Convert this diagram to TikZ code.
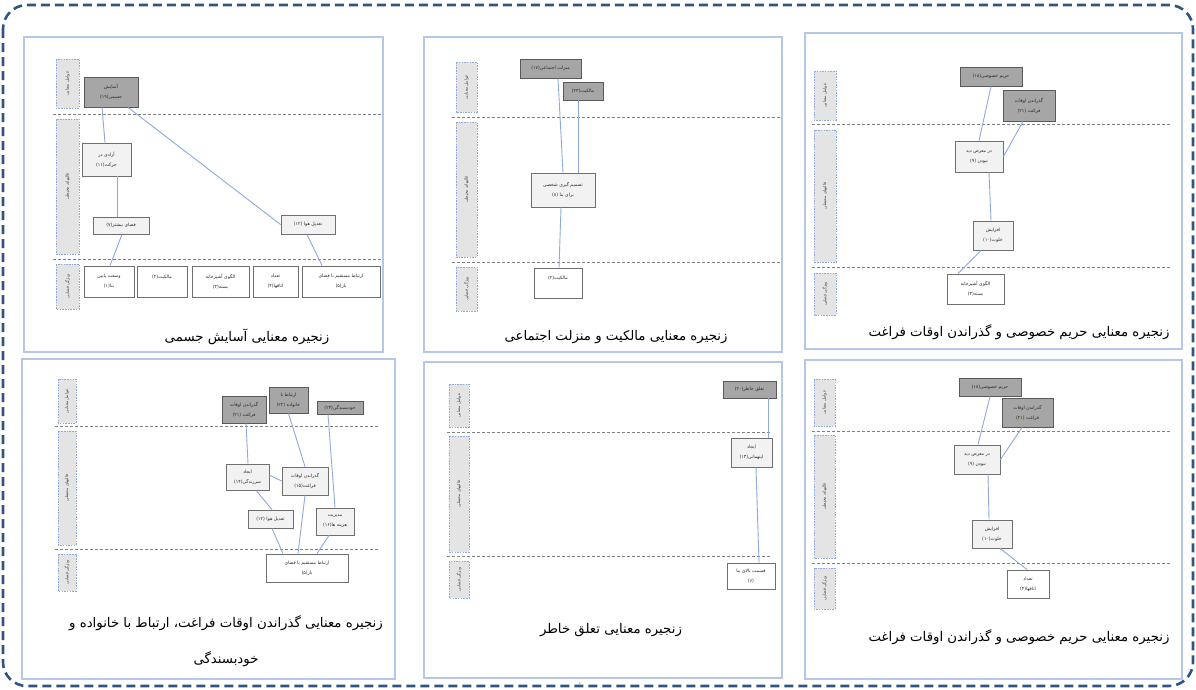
\documentclass[tikz,border=0pt]{standalone}
\usepackage{fontspec}
\newfontfamily\fafont[Script=Arabic]{DejaVu Sans}
\TeXXeTstate=1
\usetikzlibrary{calc}
\definecolor{framec}{HTML}{2F5583}
\definecolor{panelc}{HTML}{B4C7E7}
\definecolor{sidec}{HTML}{8FAADC}
\definecolor{sidefill}{HTML}{E4E4E4}
\definecolor{topfill}{HTML}{A6A6A6}
\definecolor{midfill}{HTML}{F2F2F2}
\definecolor{boxline}{HTML}{6F6F6F}
\definecolor{connc}{HTML}{8EAADB}
\definecolor{sepc}{HTML}{808080}
\newcommand\fa[1]{\beginR #1\endR}
\begin{document}
\begin{tikzpicture}[x=1pt,y=-1pt,
  panel/.style={draw=panelc,line width=2.6pt},
  sidelab/.style={draw=sidec,fill=sidefill,line width=0.8pt,dash pattern=on 1.5pt off 1.2pt,rotate=90,inner sep=0pt,font=\fafont\fontsize{4.2}{5}\selectfont,text=black!75},
  sep/.style={draw=sepc,line width=0.8pt,dash pattern=on 3pt off 2pt},
  nbase/.style={draw=boxline,line width=0.9pt,inner sep=0pt,align=center,font=\fafont\fontsize{4.6}{10}\selectfont,text=black!85},
  tbox/.style={nbase,fill=topfill,draw=black!65},
  mbox/.style={nbase,fill=midfill},
  bbox/.style={nbase,fill=white},
  conn/.style={draw=connc,line width=0.9pt},
  ttl/.style={align=center,font=\fafont\fontsize{13.3}{36}\selectfont,text=black}
]
\useasboundingbox (0,0) rectangle (1196,689);
\fill[white] (0,0) rectangle (1196,689);
% outer frame
\draw[framec,line width=2.6pt,dash pattern=on 9pt off 5pt,rounded corners=24pt] (3,5) rectangle (1193,686);

% ================= Panel 1 =================
\draw[panel] (24,37) rectangle (383,352);
\node[sidelab,minimum width=49,minimum height=23] (s1a) at (67.5,83.5) {\fa{عوامل معنایی}};
\node[sidelab,minimum width=135,minimum height=23] (s1b) at (67.5,186.5) {\fa{قالبهای محیطی}};
\node[sidelab,minimum width=45,minimum height=23] (s1c) at (67.5,286.5) {\fa{ویژگی فضایی}};
\draw[sep] (53,114) -- (383,114);
\draw[sep] (53,259) -- (383,259);
\node[tbox,minimum width=54,minimum height=30] (p1a) at (111,92) {\fa{آسایش}\\\fa{جسمی(۱۹)}};
\node[mbox,minimum width=49,minimum height=33] (p1b) at (106.5,159.5) {\fa{آزادی در}\\\fa{حرکت(۱۱)}};
\node[mbox,minimum width=56,minimum height=17] (p1c) at (121,225.5) {\fa{فضای بیشتر(۷)}};
\node[mbox,minimum width=54,minimum height=19] (p1d) at (308,224.5) {\fa{تعدیل هوا (۱۲)}};
\node[bbox,minimum width=50,minimum height=31] (p1e) at (109,281.5) {\fa{وسعت پایین}\\\fa{بنا(۱)}};
\node[bbox,minimum width=50,minimum height=31] (p1f) at (162,281.5) {\fa{مالکیت(۲)}\\\mbox{}};
\node[bbox,minimum width=57,minimum height=31] (p1g) at (220.5,281.5) {\fa{الگوی آشپزخانه}\\\fa{بسته(۳)}};
\node[bbox,minimum width=45,minimum height=31] (p1h) at (275.5,281.5) {\fa{تعداد}\\\fa{اتاقها(۴)}};
\node[bbox,minimum width=78,minimum height=31] (p1i) at (341,281.5) {\fa{ارتباط مستقیم با فضای}\\\fa{باز(۵)}};
\draw[conn] ([xshift=-9pt]p1a.south) -- ([xshift=-1.5pt]p1b.north);
\draw[conn] ([xshift=17pt]p1a.south) -- (p1d.west);
\draw[conn] ([xshift=10.5pt]p1b.south) -- ([xshift=-4pt]p1c.north);
\draw[conn] ([xshift=1pt]p1c.south) -- ([xshift=1pt]p1e.north);
\draw[conn] ([xshift=-1pt]p1d.south) -- ([xshift=-19pt]p1i.north);
\node[ttl] (t1) at (247,337) {\fa{زنجیره معنایی آسایش جسمی}};

% ================= Panel 2 =================
\draw[panel] (424,37) rectangle (782,352);
\node[sidelab,minimum width=50,minimum height=21] (s2a) at (466.5,87) {\fa{عوامل معنایی}};
\node[sidelab,minimum width=135,minimum height=21] (s2b) at (466.5,189.5) {\fa{قالبهای محیطی}};
\node[sidelab,minimum width=44,minimum height=21] (s2c) at (466.5,289) {\fa{ویژگی فضایی}};
\draw[sep] (452,117) -- (782,117);
\draw[sep] (452,262) -- (782,262);
\node[tbox,minimum width=61,minimum height=19] (p2a) at (550.5,68.5) {\fa{منزلت اجتماعی(۱۷)}};
\node[tbox,minimum width=40,minimum height=18] (p2b) at (583,91) {\fa{مالکیت(۲۳)}};
\node[mbox,minimum width=64,minimum height=34] (p2c) at (563,190) {\fa{تصمیم گیری شخصی}\\\fa{برای بنا (۸)}};
\node[bbox,minimum width=48,minimum height=30] (p2d) at (558,283) {\fa{مالکیت(۲)}\\\mbox{}};
\draw[conn] ([xshift=7.5pt]p2a.south) -- (p2c.north);
\draw[conn] ([xshift=-5pt]p2b.south) -- ([xshift=15pt]p2c.north);
\draw[conn] ([xshift=-2pt]p2c.south) -- ([xshift=1pt]p2d.north);
\node[ttl] (t2) at (616,337) {\fa{زنجیره معنایی مالکیت و منزلت اجتماعی}};

% ================= Panel 3 =================
\draw[panel] (805,33) rectangle (1182,349);
\node[sidelab,minimum width=49,minimum height=22] (s3a) at (825,95.5) {\fa{عوامل معنایی}};
\node[sidelab,minimum width=132,minimum height=22] (s3b) at (825,196) {\fa{قالبهای محیطی}};
\node[sidelab,minimum width=42,minimum height=22] (s3c) at (825,294) {\fa{ویژگی فضایی}};
\draw[sep] (812,124) -- (1170,124);
\draw[sep] (812,267) -- (1170,267);
\node[tbox,minimum width=62,minimum height=19] (p3a) at (991,76.5) {\fa{حریم خصوصی(۱۸)}};
\node[tbox,minimum width=52,minimum height=31] (p3b) at (1029,105.5) {\fa{گذراندن اوقات}\\\fa{فراغت (۲۱)}};
\node[mbox,minimum width=48,minimum height=31] (p3c) at (979,156.5) {\fa{در معرض دید}\\\fa{نبودن (۹)}};
\node[mbox,minimum width=40,minimum height=29] (p3d) at (993,235.5) {\fa{افزایش}\\\fa{خلوت(۱۰)}};
\node[bbox,minimum width=57,minimum height=30] (p3e) at (975.5,289) {\fa{الگوی آشپزخانه}\\\fa{بسته(۳)}};
\draw[conn] (p3a.south) -- (p3c.north);
\draw[conn] ([xshift=-6pt]p3b.south) -- (p3c.east);
\draw[conn] ([xshift=10pt]p3c.south) -- ([xshift=-2pt]p3d.north);
\draw[conn] ([xshift=-12pt]p3d.south) -- ([xshift=-17.5pt]p3e.north);
\node[ttl] (t3) at (1019,332) {\fa{زنجیره معنایی حریم خصوصی و گذراندن اوقات فراغت}};

% ================= Panel 4 =================
\draw[panel] (22,359) rectangle (395,679);
\node[sidelab,minimum width=44,minimum height=18] (s4a) at (67,401) {\fa{عوامل معنایی}};
\node[sidelab,minimum width=114,minimum height=18] (s4b) at (67,488) {\fa{قالبهای محیطی}};
\node[sidelab,minimum width=37,minimum height=18] (s4c) at (67,572.5) {\fa{ویژگی فضایی}};
\draw[sep] (55,426) -- (378,426);
\draw[sep] (55,549) -- (378,549);
\node[tbox,minimum width=44,minimum height=27] (p4a) at (244,409.5) {\fa{گذراندن اوقات}\\\fa{فراغت (۲۱)}};
\node[tbox,minimum width=39,minimum height=26] (p4b) at (288.5,400) {\fa{ارتباط با}\\\fa{خانواده (۲۲)}};
\node[tbox,minimum width=46,minimum height=13] (p4c) at (340,407.5) {\fa{خودبسندگی(۲۴)}};
\node[mbox,minimum width=43,minimum height=26] (p4d) at (247.5,477) {\fa{ایجاد}\\\fa{سرزندگی(۱۴)}};
\node[mbox,minimum width=46,minimum height=28] (p4e) at (305,481) {\fa{گذراندن اوقات}\\\fa{فراغت(۱۵)}};
\node[mbox,minimum width=45,minimum height=18] (p4f) at (270.5,519) {\fa{تعدیل هوا (۱۲)}};
\node[mbox,minimum width=38,minimum height=27] (p4g) at (335,521.5) {\fa{مدیریت}\\\fa{هزینه ها(۱۶)}};
\node[bbox,minimum width=82,minimum height=28] (p4h) at (307,568) {\fa{ارتباط مستقیم با فضای}\\\fa{باز(۵)}};
\draw[conn] ([xshift=2pt]p4a.south) -- ([xshift=0.5pt]p4d.north);
\draw[conn] (p4b.south) -- (p4e.north);
\draw[conn] ([xshift=-12pt]p4c.south) -- (p4g.north);
\draw[conn] ([yshift=2pt]p4d.east) -- (p4e.west);
\draw[conn] ([xshift=8.5pt]p4d.south) -- ([xshift=1.5pt]p4f.north);
\draw[conn] ([xshift=1.5pt]p4f.south) -- ([xshift=-24pt]p4h.north);
\draw[conn] (p4e.south) -- ([xshift=-9pt]p4h.north);
\draw[conn] ([xshift=-6pt]p4g.south) -- ([xshift=10pt]p4h.north);
\node[ttl] (t4) at (226,641) {\fa{زنجیره معنایی گذراندن اوقات فراغت، ارتباط با خانواده و}\\\fa{خودبسندگی}};

% ================= Panel 5 =================
\draw[panel] (424,362) rectangle (782,678);
\node[sidelab,minimum width=43,minimum height=20] (s5a) at (459,405.5) {\fa{عوامل معنایی}};
\node[sidelab,minimum width=116,minimum height=20] (s5b) at (459,494) {\fa{قالبهای محیطی}};
\node[sidelab,minimum width=37,minimum height=20] (s5c) at (459,579.5) {\fa{ویژگی فضایی}};
\draw[sep] (447,432) -- (771,432);
\draw[sep] (447,556) -- (771,556);
\node[tbox,minimum width=53,minimum height=17] (p5a) at (749.5,389.5) {\fa{تعلق خاطر(۲۰)}};
\node[mbox,minimum width=41,minimum height=29] (p5b) at (751.5,452.5) {\fa{ایجاد}\\\fa{اینهمانی(۱۳)}};
\node[bbox,minimum width=48,minimum height=26] (p5c) at (751,576) {\fa{قسمت بالای بنا}\\\fa{(۶)}};
\draw[conn] ([xshift=18.5pt]p5a.south) -- ([xshift=16.5pt]p5b.north);
\draw[conn] ([xshift=4.5pt]p5b.south) -- ([xshift=8pt]p5c.north);
\node[ttl] (t5) at (611,630) {\fa{زنجیره معنایی تعلق خاطر}};

% ================= Panel 6 =================
\draw[panel] (805,360) rectangle (1182,679);
\node[sidelab,minimum width=47,minimum height=21] (s6a) at (824.5,402.5) {\fa{عوامل معنایی}};
\node[sidelab,minimum width=123,minimum height=21] (s6b) at (824.5,496.5) {\fa{قالبهای محیطی}};
\node[sidelab,minimum width=41,minimum height=21] (s6c) at (824.5,588.5) {\fa{ویژگی فضایی}};
\draw[sep] (812,431) -- (1170,431);
\draw[sep] (812,563) -- (1170,563);
\node[tbox,minimum width=62,minimum height=18] (p6a) at (990,387) {\fa{حریم خصوصی(۱۸)}};
\node[tbox,minimum width=51,minimum height=29] (p6b) at (1027.5,412.5) {\fa{گذراندن اوقات}\\\fa{فراغت (۲۱)}};
\node[mbox,minimum width=46,minimum height=29] (p6c) at (977,459.5) {\fa{در معرض دید}\\\fa{نبودن (۹)}};
\node[mbox,minimum width=40,minimum height=28] (p6d) at (992,534) {\fa{افزایش}\\\fa{خلوت(۱۰)}};
\node[bbox,minimum width=42,minimum height=28] (p6e) at (1028,584) {\fa{تعداد}\\\fa{اتاقها(۴)}};
\draw[conn] (p6a.south) -- ([xshift=1pt]p6c.north);
\draw[conn] ([xshift=-5.5pt]p6b.south) -- (p6c.east);
\draw[conn] ([xshift=11pt]p6c.south) -- ([xshift=-3pt]p6d.north);
\draw[conn] ([xshift=8pt]p6d.south) -- ([xshift=-1pt]p6e.north);
\node[ttl] (t6) at (1019,637) {\fa{زنجیره معنایی حریم خصوصی و گذراندن اوقات فراغت}};

% page number
\node[font=\fontsize{6}{7}\selectfont,text=black!55] (pg) at (580,684) {1};
\end{tikzpicture}
\end{document}
